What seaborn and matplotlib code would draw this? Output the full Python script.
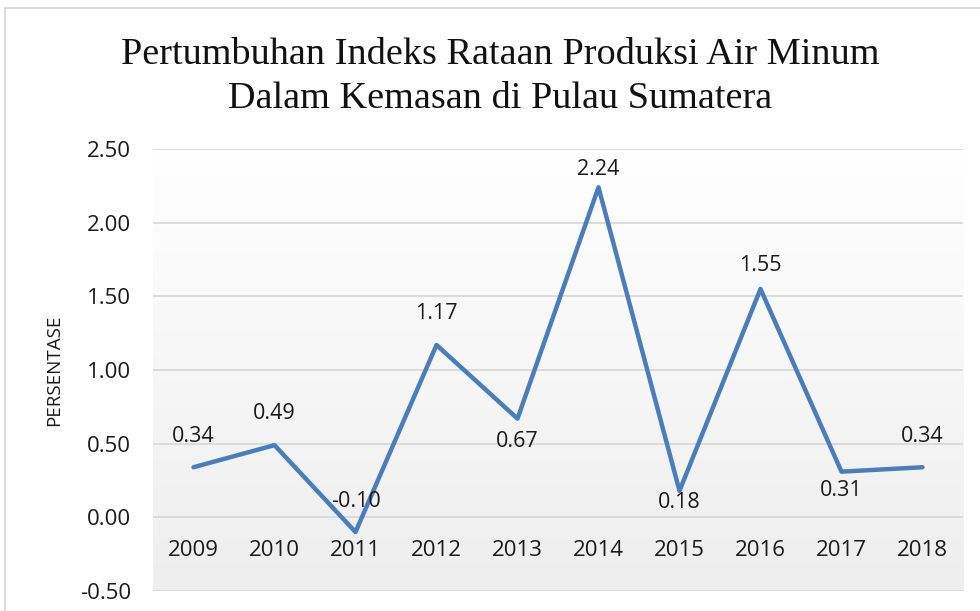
import numpy as np
import matplotlib
matplotlib.use("Agg")
import matplotlib.pyplot as plt
import seaborn as sns
from matplotlib.patches import Rectangle
from matplotlib.colors import LinearSegmentedColormap

years = ["2009", "2010", "2011", "2012", "2013", "2014", "2015", "2016", "2017", "2018"]
values = [0.34, 0.49, -0.10, 1.17, 0.67, 2.24, 0.18, 1.55, 0.31, 0.34]
yticks = [-0.5, 0.0, 0.5, 1.0, 1.5, 2.0, 2.5]
title_lines = ["Pertumbuhan Indeks Rataan Produksi Air Minum", "Dalam Kemasan di Pulau Sumatera"]
ylabel = "PERSENTASE"

# vertical offset (pixels) of each data label relative to its point
label_offsets = [31, 32, 31, 31, -23, 18, -12, 23, -19, 31]

sns.set_theme(style="white")
plt.rcParams["font.family"] = ["Open Sans", "DejaVu Sans"]

fig = plt.figure(figsize=(9.8, 6.11), dpi=100)
ax = fig.add_axes([153/980, 1-591/611, (963-153)/980, (591-149)/611])

# gradient background of plot area
grad = np.linspace(1.0, 0.0, 256).reshape(-1, 1)
cmap = LinearSegmentedColormap.from_list("bg", ["#eeeeee", "#ffffff"])
ax.imshow(grad, cmap=cmap, aspect="auto", extent=[0, 1, 0, 1],
          transform=ax.transAxes, zorder=0, vmin=0, vmax=1)

sns.lineplot(x=years, y=values, ax=ax, color="#4a7ebb", linewidth=3.2,
             sort=False, zorder=3)

ax.set_xlim(-0.5, len(years) - 0.5)
ax.set_ylim(-0.5, 2.5)
ax.set_yticks(yticks)
ax.set_yticklabels([f"{t:.2f}" for t in yticks], fontsize=16, color="#1a1a1a")
for y in yticks:
    ax.axhline(y, color="#d9d9d9", linewidth=1.3, zorder=1)

for s in ax.spines.values():
    s.set_visible(False)
ax.spines["bottom"].set_position(("data", 0))
ax.tick_params(axis="x", length=0, pad=16, labelsize=16, labelcolor="#1a1a1a")
ax.tick_params(axis="y", length=0, pad=16)
ax.set_xlabel("")
ax.set_ylabel(ylabel, fontsize=13.5, color="#1a1a1a", labelpad=12)

for i, (v, off) in enumerate(zip(values, label_offsets)):
    ax.annotate(f"{v:.2f}", (i, v), xytext=(0, off), textcoords="offset pixels",
                ha="center", va="center", fontsize=15.5, color="#1a1a1a", zorder=4)

for line, ypix in zip(title_lines, [64, 108]):
    fig.text(500/980, 1-ypix/611, line, ha="center", va="baseline", fontsize=27.5,
             family="Liberation Serif", color="#111111")

fig.patches.append(Rectangle((5/980, -0.1), 1.2, 0.1 + (1-8/611), transform=fig.transFigure,
                             fill=False, edgecolor="#d9d9d9", linewidth=1.3))

fig.savefig("out.png", dpi=100, facecolor="white")
